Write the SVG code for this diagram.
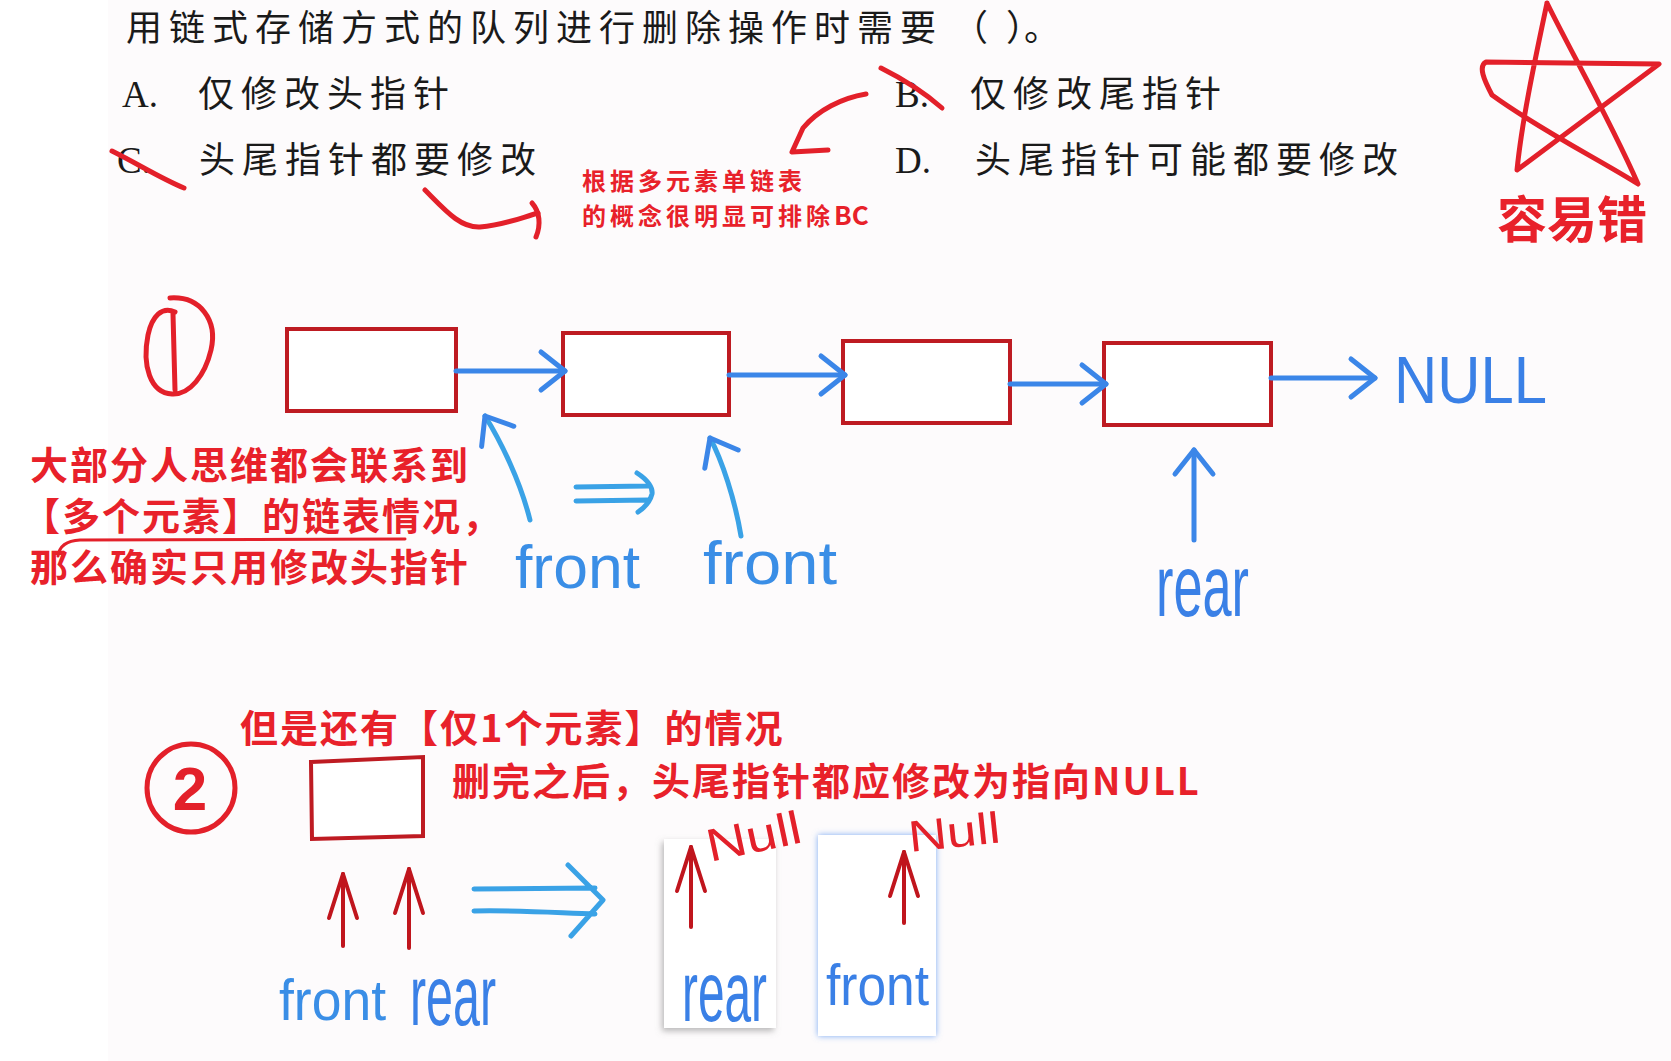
<svg xmlns="http://www.w3.org/2000/svg" width="1671" height="1061" viewBox="0 0 1671 1061">
<style>
.q{font-family:"Noto Sans CJK SC","Noto Sans CJK JP",sans-serif;font-size:36px;fill:#1a1a1a;letter-spacing:7px}
.lat{font-family:"Liberation Serif",serif;font-size:37px;fill:#1a1a1a}
.rt{font-family:"Noto Sans CJK SC","Noto Sans CJK JP",sans-serif;font-weight:700;fill:#e8212a}
.hb{font-family:"Liberation Sans",sans-serif;fill:#3a8ee6}
.hr{font-family:"Liberation Sans",sans-serif;fill:#e3202a}
.box{fill:#ffffff;stroke:#be1b22;stroke-width:4}
.ba{fill:none;stroke:#3b86e8;stroke-width:5;stroke-linecap:round;stroke-linejoin:round}
.bl{fill:none;stroke:#3aa2e6;stroke-width:5;stroke-linecap:round;stroke-linejoin:round}
.rs{fill:none;stroke:#e3202a;stroke-width:5;stroke-linecap:round;stroke-linejoin:round}
.ra{fill:none;stroke:#c0151d;stroke-width:4;stroke-linecap:round;stroke-linejoin:round}
</style>
<defs>
<marker id="bh" markerUnits="userSpaceOnUse" markerWidth="60" markerHeight="60" refX="0" refY="0" viewBox="-40 -30 50 60" orient="auto">
<path d="M-24,-19 L0,0 L-24,19" fill="none" stroke="#3b86e8" stroke-width="5" stroke-linecap="round" stroke-linejoin="round"/>
</marker>
<marker id="rh" markerUnits="userSpaceOnUse" markerWidth="70" markerHeight="60" refX="0" refY="0" viewBox="-55 -30 65 60" orient="auto">
<path d="M-44,-14 L0,0 L-44,14" fill="none" stroke="#c0151d" stroke-width="4" stroke-linecap="round" stroke-linejoin="round"/>
</marker>
<filter id="sh" x="-30%" y="-20%" width="160%" height="140%">
<feDropShadow dx="-2" dy="3" stdDeviation="3" flood-color="#888888" flood-opacity="0.6"/>
</filter>
<filter id="gl" x="-30%" y="-20%" width="160%" height="140%">
<feDropShadow dx="0" dy="0" stdDeviation="3" flood-color="#5a96f0" flood-opacity="0.8"/>
</filter>
</defs>
<rect x="0" y="0" width="1671" height="1061" fill="#ffffff"/>
<rect x="108" y="0" width="1563" height="1061" fill="#fdfbfc"/>

<g id="question">
<text class="q" x="126" y="41">用链式存储方式的队列进行删除操作时需要</text>
<text class="q" x="952" y="41" style="letter-spacing:0">（</text>
<text class="q" x="1006" y="41" style="letter-spacing:0">）。</text>
</g>
<g id="optA">
<text class="lat" x="122" y="107">A.</text>
<text class="q" x="198" y="107">仅修改头指针</text>
</g>
<g id="optB">
<text class="lat" x="895" y="107">B.</text>
<text class="q" x="970" y="107">仅修改尾指针</text>
</g>
<g id="optC">
<text class="lat" x="117" y="173">C.</text>
<text class="q" x="199" y="173">头尾指针都要修改</text>
</g>
<g id="optD">
<text class="lat" x="895" y="173">D.</text>
<text class="q" x="975" y="173">头尾指针可能都要修改</text>
</g>

<g id="note-bc">
<text class="rt" x="582" y="190" font-size="24" letter-spacing="4">根据多元素单链表</text>
<text class="rt" x="582" y="225" font-size="24" letter-spacing="4">的概念很明显可排除<tspan letter-spacing="0" font-size="26">BC</tspan></text>
</g>

<g id="star">
<path class="rs" d="M1547,3 C1535,60 1522,120 1517,170 L1659,64 L1486,62 C1478,66 1484,80 1492,95 C1540,130 1600,160 1638,184 C1610,120 1570,50 1547,3"/>
<text class="rt" x="1497" y="238" font-size="50">容易错</text>
</g>

<g id="marks">
<path class="rs" d="M881,68 C905,80 925,93 942,108"/>
<path class="rs" d="M112,151 C140,165 160,178 184,188"/>
<path class="rs" d="M866,94 C842,98 818,110 803,128 L792,152 L828,150"/>
<path class="rs" d="M425,190 C445,210 460,228 480,227 C505,225 520,218 538,213"/>
<path class="rs" d="M532,203 C540,212 541,225 536,237"/>
</g>

<g id="num1">
<path class="rs" d="M170,298 C200,296 218,320 211,350 C205,375 190,395 172,394 C150,393 142,365 148,335 C152,316 162,306 175,312"/>
<path class="rs" d="M173,314 L175,390"/>
</g>

<g id="node1"><rect class="box" x="287" y="329" width="169" height="82"/></g>
<g id="node2"><rect class="box" x="563" y="333" width="166" height="82"/></g>
<g id="node3"><rect class="box" x="843" y="341" width="167" height="82"/></g>
<g id="node4"><rect class="box" x="1104" y="343" width="167" height="82"/></g>
<g id="null1"><text class="hb" x="1394" y="403" font-size="66" textLength="153" lengthAdjust="spacingAndGlyphs" style="fill:#3a80e6">NULL</text></g>

<g id="front1"><text class="hb" x="515" y="588" font-size="62" textLength="125" lengthAdjust="spacingAndGlyphs">front</text></g>
<g id="front2"><text class="hb" x="703" y="584" font-size="62" textLength="134" lengthAdjust="spacingAndGlyphs">front</text></g>
<g id="rear1"><text class="hb" x="1156" y="616" font-size="88" textLength="93" lengthAdjust="spacingAndGlyphs" style="fill:#3a80e6">rear</text></g>

<g id="note-multi">
<text class="rt" x="30" y="479" font-size="38" letter-spacing="2">大部分人思维都会联系到</text>
<text class="rt" x="22" y="530" font-size="38" letter-spacing="2">【多个元素】的链表情况，</text>
<text class="rt" x="30" y="581" font-size="38" letter-spacing="2">那么确实只用修改头指针</text>
<path d="M58,556 Q60,541 80,540 L405,539" fill="none" stroke="#e3202a" stroke-width="3" stroke-linecap="round"/>
</g>

<g id="num2">
<circle cx="191" cy="788" r="44" fill="none" stroke="#e3202a" stroke-width="5"/>
<text class="hr" x="190" y="810" font-size="62" font-weight="700" text-anchor="middle">2</text>
</g>
<g id="note-single">
<text class="rt" x="240" y="742" font-size="38" letter-spacing="2">但是还有【仅1个元素】的情况</text>
<text class="rt" x="452" y="795" font-size="38" letter-spacing="2">删完之后，头尾指针都应修改为指向NULL</text>
</g>
<g id="node-single"><path class="box" d="M311,762 L423,757 L423,836 L312,839 Z"/></g>
<g id="front3"><text class="hb" x="279" y="1020" font-size="58" textLength="107" lengthAdjust="spacingAndGlyphs">front</text></g>
<g id="rear3"><text class="hb" x="410" y="1025" font-size="85" textLength="86" lengthAdjust="spacingAndGlyphs" style="fill:#3a80e6">rear</text></g>

<g id="panel-rear">
<rect x="664" y="839" width="112" height="189" fill="#ffffff" filter="url(#sh)"/>
<text class="hb" x="682" y="1021" font-size="85" textLength="85" lengthAdjust="spacingAndGlyphs" style="fill:#3a80e6">rear</text>
<text class="hr" x="0" y="0" font-size="46" textLength="96" lengthAdjust="spacingAndGlyphs" transform="translate(710,862) rotate(-12)">Null</text>
</g>
<g id="panel-front">
<rect x="818" y="835" width="118" height="201" fill="#ffffff" filter="url(#gl)"/>
<text class="hb" x="826" y="1005" font-size="58" textLength="103" lengthAdjust="spacingAndGlyphs" style="fill:#3a80e6">front</text>
<text class="hr" x="0" y="0" font-size="44" textLength="92" lengthAdjust="spacingAndGlyphs" transform="translate(910,852) rotate(-6)">Null</text>
</g>

<g id="connectors">
<path class="ba" d="M456,371 L565,371" marker-end="url(#bh)"/>
<path class="ba" d="M729,375 L845,375" marker-end="url(#bh)"/>
<path class="ba" d="M1010,384 L1106,384" marker-end="url(#bh)"/>
<path class="ba" d="M1271,378 L1375,378" marker-end="url(#bh)"/>
<path class="ba" d="M530,520 C520,480 500,440 485,416" marker-end="url(#bh)" style="stroke:#3aa2e6"/>
<path class="ba" d="M741,536 C735,500 722,460 710,438" marker-end="url(#bh)" style="stroke:#3aa2e6"/>
<path class="ba" d="M1194,540 L1194,450" marker-end="url(#bh)"/>
<path class="bl" d="M576,487 L648,486 M576,501 L648,500 M637,473 C648,480 653,488 652,494 C650,502 644,508 638,512"/>
<path class="bl" d="M474,889 L595,888 M474,911 C520,910 560,913 595,914 M568,865 L603,900 L571,936"/>
<path class="ra" d="M343,946 L343,874" marker-end="url(#rh)"/>
<path class="ra" d="M409,948 L409,869" marker-end="url(#rh)"/>
<path class="ra" d="M691,927 L691,847" marker-end="url(#rh)"/>
<path class="ra" d="M904,923 L904,852" marker-end="url(#rh)"/>
</g>
</svg>
